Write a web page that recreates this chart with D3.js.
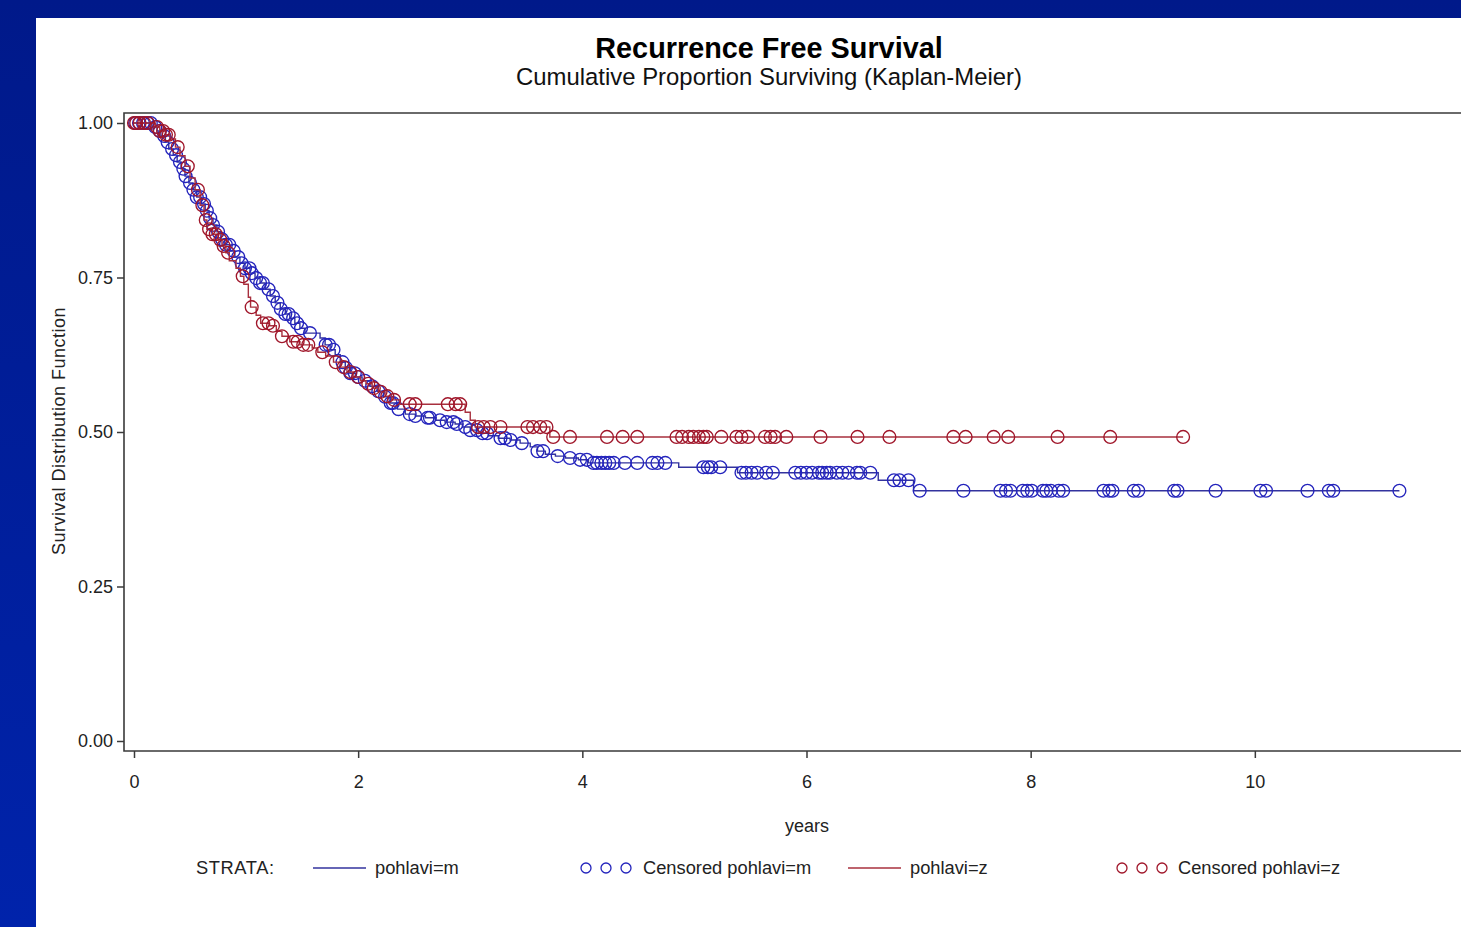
<!DOCTYPE html>
<html>
<head>
<meta charset="utf-8">
<script src="https://cdn.jsdelivr.net/npm/d3@7"></script>
<style>
  html, body { margin: 0; padding: 0; background: #001a8c; }
  svg { display: block; }
  text { font-family: "Liberation Sans", Arial, sans-serif; }
</style>
</head>
<body>
<svg id="chart" width="1461" height="927"></svg>
<script>
// Kaplan-Meier steps: [years, survival after the event]
const eventsM = [
  [0.16,0.9935],[0.205,0.987],[0.24,0.979],[0.28,0.969],[0.31,0.958],[0.35,0.948],
  [0.385,0.937],[0.42,0.926],[0.455,0.914],[0.49,0.903],[0.525,0.892],[0.56,0.880],
  [0.60,0.869],[0.635,0.858],[0.67,0.846],[0.705,0.835],[0.74,0.824],[0.775,0.812],
  [0.81,0.803],[0.855,0.793],[0.90,0.783],[0.945,0.773],[0.99,0.765],[1.035,0.757],
  [1.08,0.749],[1.125,0.741],[1.17,0.731],[1.215,0.720],[1.26,0.709],[1.305,0.699],
  [1.35,0.691],[1.39,0.684],[1.435,0.676],[1.48,0.668],[1.525,0.660],[1.66,0.652],
  [1.705,0.641],[1.75,0.633],[1.795,0.625],[1.84,0.613],[1.885,0.604],[1.93,0.595],
  [1.975,0.589],[2.035,0.583],[2.105,0.574],[2.17,0.566],[2.225,0.557],[2.285,0.547],
  [2.35,0.537],[2.42,0.529],[2.51,0.526],[2.60,0.523],[2.69,0.519],[2.775,0.516],
  [2.865,0.513],[2.93,0.508],[3.00,0.503],[3.07,0.498],[3.16,0.494],[3.25,0.490],
  [3.355,0.487],[3.445,0.482],[3.535,0.476],[3.60,0.469],[3.67,0.464],[3.76,0.461],
  [3.85,0.458],[3.965,0.455],[4.055,0.450],[4.86,0.443],[5.385,0.434],[6.64,0.422],
  [6.955,0.405]
];
const censoredM = [
  0.01,0.045,0.08,0.12,0.15,0.19,0.23,0.27,0.30,0.34,0.375,0.41,0.44,0.46,0.50,0.53,
  0.56,0.59,0.625,0.65,0.68,0.705,0.75,0.785,0.82,0.85,0.89,0.93,0.96,0.99,1.03,1.05,
  1.09,1.125,1.15,1.20,1.24,1.28,1.31,1.35,1.38,1.42,1.455,1.49,1.57,1.71,1.74,1.78,
  1.86,1.89,1.93,1.97,2.00,2.06,2.125,2.18,2.24,2.29,2.31,2.36,2.46,2.51,2.62,2.64,
  2.73,2.79,2.85,2.88,2.955,3.00,3.06,3.11,3.15,3.27,3.31,3.36,3.46,3.60,3.65,3.78,
  3.89,3.98,4.04,
  4.10,4.13,4.17,4.205,4.24,4.28,4.38,4.49,4.625,4.67,4.74,
  5.08,5.12,5.15,5.23,
  5.42,5.46,5.51,5.56,5.64,5.70,5.90,5.95,6.00,6.05,6.11,6.14,6.18,6.21,6.27,6.32,
  6.375,6.45,6.48,6.57,
  6.78,6.83,6.91,
  7.01,7.40,7.73,7.78,7.82,7.93,7.97,8.01,8.11,8.14,8.18,8.25,8.29,8.65,8.70,8.73,
  8.92,8.96,9.28,9.31,9.65,10.05,10.10,10.47,10.66,10.70,11.29
];
const eventsZ = [
  [0.19,0.9935],[0.23,0.987],[0.28,0.981],[0.32,0.974],[0.37,0.961],[0.41,0.947],
  [0.455,0.930],[0.50,0.911],[0.545,0.892],[0.59,0.867],[0.625,0.843],[0.65,0.828],
  [0.70,0.820],[0.75,0.811],[0.785,0.801],[0.82,0.790],[0.85,0.777],[0.91,0.765],
  [0.95,0.752],[0.98,0.739],[1.02,0.718],[1.04,0.702],[1.09,0.689],[1.13,0.676],
  [1.21,0.672],[1.27,0.663],[1.32,0.655],[1.39,0.646],[1.48,0.641],[1.59,0.636],
  [1.64,0.629],[1.71,0.623],[1.78,0.613],[1.84,0.605],[1.90,0.597],[1.955,0.589],
  [2.02,0.583],[2.07,0.578],[2.125,0.571],[2.18,0.565],[2.24,0.558],[2.30,0.552],
  [2.375,0.545],[2.955,0.532],[3.00,0.519],[3.045,0.508],[3.71,0.492]
];
const censoredZ = [
  0.0,0.02,0.05,0.09,0.125,0.205,0.23,0.26,0.285,0.31,0.39,0.48,0.57,0.61,0.64,0.67,
  0.70,0.73,0.77,0.80,0.84,0.97,1.05,1.15,1.20,1.24,1.32,1.42,1.46,1.51,1.555,1.68,
  1.80,1.87,1.93,2.00,2.09,2.14,2.20,2.26,2.32,2.46,2.51,2.80,2.87,2.91,3.07,3.12,
  3.18,3.27,3.51,3.56,3.625,3.68,3.74,3.89,4.22,4.36,4.49,4.84,4.89,4.95,4.99,5.04,
  5.08,5.11,5.24,5.375,5.42,5.48,5.63,5.68,5.72,5.82,6.125,6.455,6.74,7.31,7.42,
  7.67,7.80,8.24,8.71,9.36
];
const xTicks = [0, 2, 4, 6, 8, 10];
const yTicks = [0, 0.25, 0.5, 0.75, 1];

const W = 1461, H = 927;
const svg = d3.select("#chart");

// backdrop and white page
const defs = svg.append("defs");
const grad = defs.append("linearGradient").attr("id", "bg").attr("x1", 0).attr("y1", 0).attr("x2", 0).attr("y2", 1);
grad.append("stop").attr("offset", "0%").attr("stop-color", "#00198a");
grad.append("stop").attr("offset", "100%").attr("stop-color", "#0023ab");
svg.append("rect").attr("width", W).attr("height", H).attr("fill", "url(#bg)");
svg.append("rect").attr("x", 36).attr("y", 18).attr("width", W - 36).attr("height", H - 18).attr("fill", "#fff");

// scales
const x = d3.scaleLinear().domain([-10 / 112.1, 12]).range([124, 1479]);
const y = d3.scaleLinear().domain([-10 / 618, 1 + 10 / 618]).range([751, 113]);

// titles
svg.append("text").attr("x", 769).attr("y", 58).attr("text-anchor", "middle")
  .attr("font-size", 28.8).attr("font-weight", "bold").attr("fill", "#000")
  .text("Recurrence Free Survival");
svg.append("text").attr("x", 769).attr("y", 85).attr("text-anchor", "middle")
  .attr("font-size", 23.9).attr("fill", "#111")
  .text("Cumulative Proportion Surviving (Kaplan-Meier)");

// axes
const axisColor = "#3a3a3a";
const yAxis = svg.append("g").attr("transform", "translate(124,0)")
  .call(d3.axisLeft(y).tickValues(yTicks).tickFormat(d3.format(".2f")).tickSize(7).tickPadding(4));
const xAxis = svg.append("g").attr("transform", "translate(0,751)")
  .call(d3.axisBottom(x).tickValues(xTicks).tickFormat(d3.format("d")).tickSize(7).tickPadding(17));
[yAxis, xAxis].forEach(g => {
  g.select(".domain").remove();
  g.selectAll(".tick line").attr("stroke", axisColor).attr("stroke-width", 1.5);
  g.selectAll(".tick text").attr("font-size", 18).attr("fill", "#222")
    .attr("font-family", "\"Liberation Sans\", Arial, sans-serif");
});

// plot frame (left, top, bottom)
svg.append("path")
  .attr("d", `M${x.range()[1]},${y.range()[1]}H124V751H${x.range()[1]}`)
  .attr("fill", "none").attr("stroke", axisColor).attr("stroke-width", 1.6);

svg.append("text").attr("transform", "translate(65,431) rotate(-90)")
  .attr("text-anchor", "middle").attr("font-size", 18).attr("letter-spacing", 0.5).attr("fill", "#222")
  .text("Survival Distribution Function");
svg.append("text").attr("x", 807).attr("y", 832).attr("text-anchor", "middle")
  .attr("font-size", 18).attr("fill", "#222").text("years");

// survival curves
function survAt(events, t) {
  let s = 1;
  for (const e of events) if (e[0] <= t) s = e[1];
  return s;
}
const stepLine = d3.line().x(d => x(d[0])).y(d => y(d[1])).curve(d3.curveStepAfter);

const groups = [
  { events: eventsM, censored: censoredM, line: "#33339e", mark: "#2424bc" },
  { events: eventsZ, censored: censoredZ, line: "#a8303e", mark: "#a0162a" }
];
groups.forEach(g => {
  const end = Math.max(d3.max(g.censored), d3.max(g.events, e => e[0]));
  const pts = [[0, 1], ...g.events, [end, survAt(g.events, end)]];
  svg.append("path").datum(pts).attr("d", stepLine)
    .attr("fill", "none").attr("stroke", g.line).attr("stroke-width", 1.4);
  svg.append("g").selectAll("circle").data(g.censored).join("circle")
    .attr("cx", d => x(d)).attr("cy", d => y(survAt(g.events, d)))
    .attr("r", 6.4).attr("fill", "none").attr("stroke", g.mark).attr("stroke-width", 1.35);
});

// legend
const legY = 868;
const leg = svg.append("g").attr("font-size", 18.3).attr("fill", "#222");
leg.append("text").attr("x", 196).attr("y", legY + 6).attr("letter-spacing", 0.6).text("STRATA:");
const legendItems = [
  { kind: "line", x0: 313, color: groups[0].line, label: "pohlavi=m", tx: 375 },
  { kind: "mark", x0: 586, color: groups[0].mark, label: "Censored pohlavi=m", tx: 643 },
  { kind: "line", x0: 848, color: groups[1].line, label: "pohlavi=z", tx: 910 },
  { kind: "mark", x0: 1122, color: groups[1].mark, label: "Censored pohlavi=z", tx: 1178 }
];
legendItems.forEach(it => {
  if (it.kind === "line") {
    leg.append("line").attr("x1", it.x0).attr("x2", it.x0 + 53).attr("y1", legY).attr("y2", legY)
      .attr("stroke", it.color).attr("stroke-width", 1.4);
  } else {
    [0, 20, 40].forEach(dx => leg.append("circle").attr("cx", it.x0 + dx).attr("cy", legY)
      .attr("r", 5).attr("fill", "none").attr("stroke", it.color).attr("stroke-width", 1.3));
  }
  leg.append("text").attr("x", it.tx).attr("y", legY + 6).text(it.label);
});
</script>
</body>
</html>
